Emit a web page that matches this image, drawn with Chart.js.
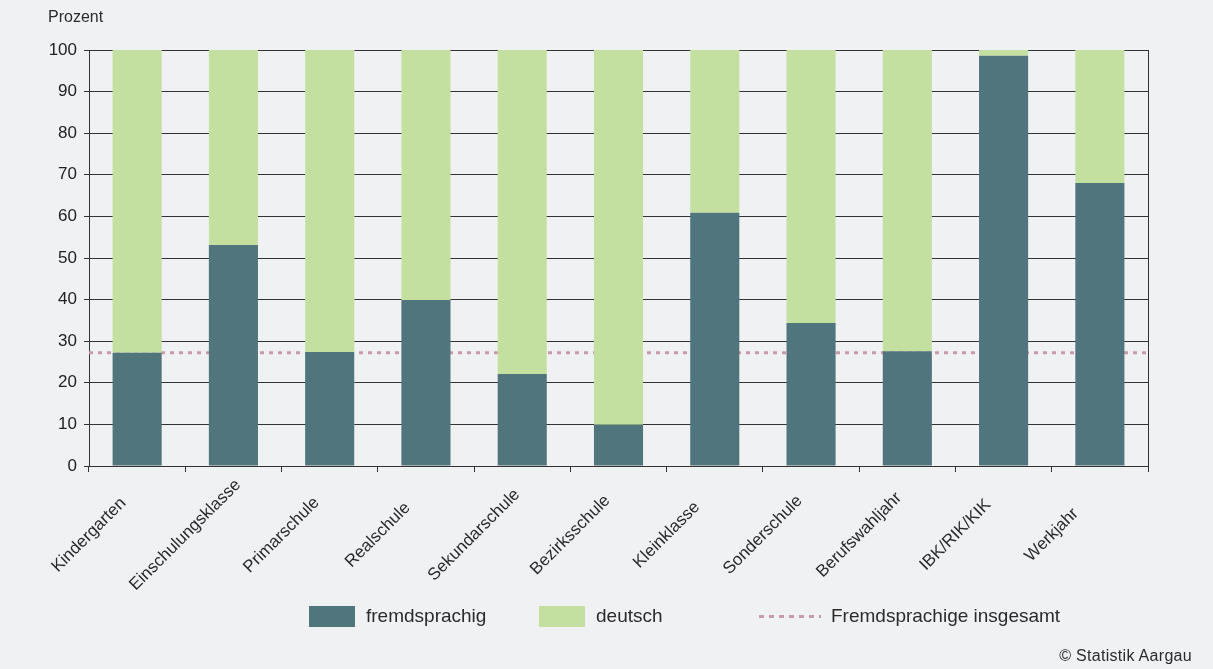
<!DOCTYPE html>
<html lang="de">
<head>
<meta charset="UTF-8">
<title>Fremdsprachige Schülerinnen und Schüler nach Schultyp</title>
<script src="https://cdn.jsdelivr.net/npm/chart.js"></script>
<style>
  body { margin: 0; background: #f0f1f3; font-family: "Liberation Sans", Arial, sans-serif; color: #2b2b2b; }
  #rahmen { position: relative; width: 1213px; height: 669px; }
  #achsentitel { position: absolute; left: 48px; top: 8px; font-size: 16px; }
  .feld { position: absolute; top: 606px; width: 46px; height: 21px; }
  .text { position: absolute; top: 605px; font-size: 19px; line-height: 21px; }
  .punkte { position: absolute; left: 759px; top: 615px; width: 62px; height: 3px;
    background: repeating-linear-gradient(90deg, #c999ab 0 5px, transparent 5px 10px); }
  #quelle { position: absolute; right: 21px; top: 647px; font-size: 16px; letter-spacing: 0.3px; }
</style>
</head>
<body>
<div id="rahmen">
  <canvas id="grafik"></canvas>
  <div id="achsentitel">Prozent</div>
  <div class="feld" style="left:309px; background:#50757c"></div>
  <div class="text" style="left:366px">fremdsprachig</div>
  <div class="feld" style="left:539px; background:#c4e0a1"></div>
  <div class="text" style="left:596px">deutsch</div>
  <div class="punkte"></div>
  <div class="text" style="left:831px">Fremdsprachige insgesamt</div>
  <div id="quelle">© Statistik Aargau</div>
</div>

<script>
  const schultypen = [
    'Kindergarten', 'Einschulungsklasse', 'Primarschule', 'Realschule',
    'Sekundarschule', 'Bezirksschule', 'Kleinklasse', 'Sonderschule',
    'Berufswahljahr', 'IBK/RIK/KIK', 'Werkjahr'
  ];
  const fremdsprachig = [27.2, 53.1, 27.4, 39.9, 22.1, 9.9, 60.9, 34.4, 27.6, 98.6, 68.0];
  const deutsch = fremdsprachig.map(v => +(100 - v).toFixed(1));
  const insgesamt = 27.2;
  const yTicks = [0, 10, 20, 30, 40, 50, 60, 70, 80, 90, 100];

  // Durchschnittslinie hinter den Balken, rechter Rahmen und schräge Beschriftung
  const zusatz = {
    id: 'zusatz',
    beforeDatasetsDraw(chart) {
      const { ctx, chartArea: a, scales: { y } } = chart;
      const py = y.getPixelForValue(insgesamt);
      ctx.save();
      ctx.strokeStyle = '#c999ab';
      ctx.lineWidth = 3;
      ctx.setLineDash([4, 5]);
      ctx.beginPath();
      ctx.moveTo(a.left, py);
      ctx.lineTo(a.right + 3, py);
      ctx.stroke();
      ctx.setLineDash([]);
      ctx.strokeStyle = '#333';
      ctx.lineWidth = 1;
      ctx.beginPath();
      ctx.moveTo(a.right + 0.5, a.top);
      ctx.lineTo(a.right + 0.5, a.bottom);
      ctx.stroke();
      ctx.restore();
    },
    afterDraw(chart) {
      const { ctx, chartArea: a, scales: { x } } = chart;
      const schritt = x.width / schultypen.length;
      ctx.save();
      ctx.fillStyle = '#2b2b2b';
      ctx.font = '17px "Liberation Sans", Arial, sans-serif';
      ctx.textAlign = 'center';
      ctx.textBaseline = 'middle';
      schultypen.forEach((t, i) => {
        ctx.save();
        ctx.translate(x.getPixelForValue(i) - schritt / 2, a.bottom + 69);
        ctx.rotate(-Math.PI / 4);
        ctx.fillText(t, 0, 0);
        ctx.restore();
      });
      ctx.restore();
    }
  };

  new Chart(document.getElementById('grafik'), {
    type: 'bar',
    data: {
      labels: schultypen,
      datasets: [
        { label: 'fremdsprachig', data: fremdsprachig, backgroundColor: '#50757c' },
        { label: 'deutsch', data: deutsch, backgroundColor: '#c4e0a1' }
      ]
    },
    options: {
      responsive: true,
      maintainAspectRatio: false,
      animation: false,
      layout: { padding: { top: 50, right: 65, left: 0, bottom: 0 } },
      datasets: { bar: { barPercentage: 0.51, categoryPercentage: 1 } },
      plugins: { legend: { display: false }, tooltip: { enabled: false } },
      scales: {
        x: {
          stacked: true,
          afterFit(s) { s.height = 203; },
          ticks: { display: false },
          grid: { offset: true, drawOnChartArea: false, tickLength: 6, color: '#333' },
          border: { color: '#333' }
        },
        y: {
          stacked: true,
          min: 0,
          max: 100,
          afterFit(s) { s.width = 89; },
          afterBuildTicks(s) { s.ticks = yTicks.map(v => ({ value: v })); },
          ticks: { color: '#222', padding: 7, font: { size: 17, family: '"Liberation Sans", Arial, sans-serif' } },
          grid: { color: '#333', tickLength: 5 },
          border: { color: '#333' }
        }
      }
    },
    plugins: [zusatz]
  });
</script>
</body>
</html>
